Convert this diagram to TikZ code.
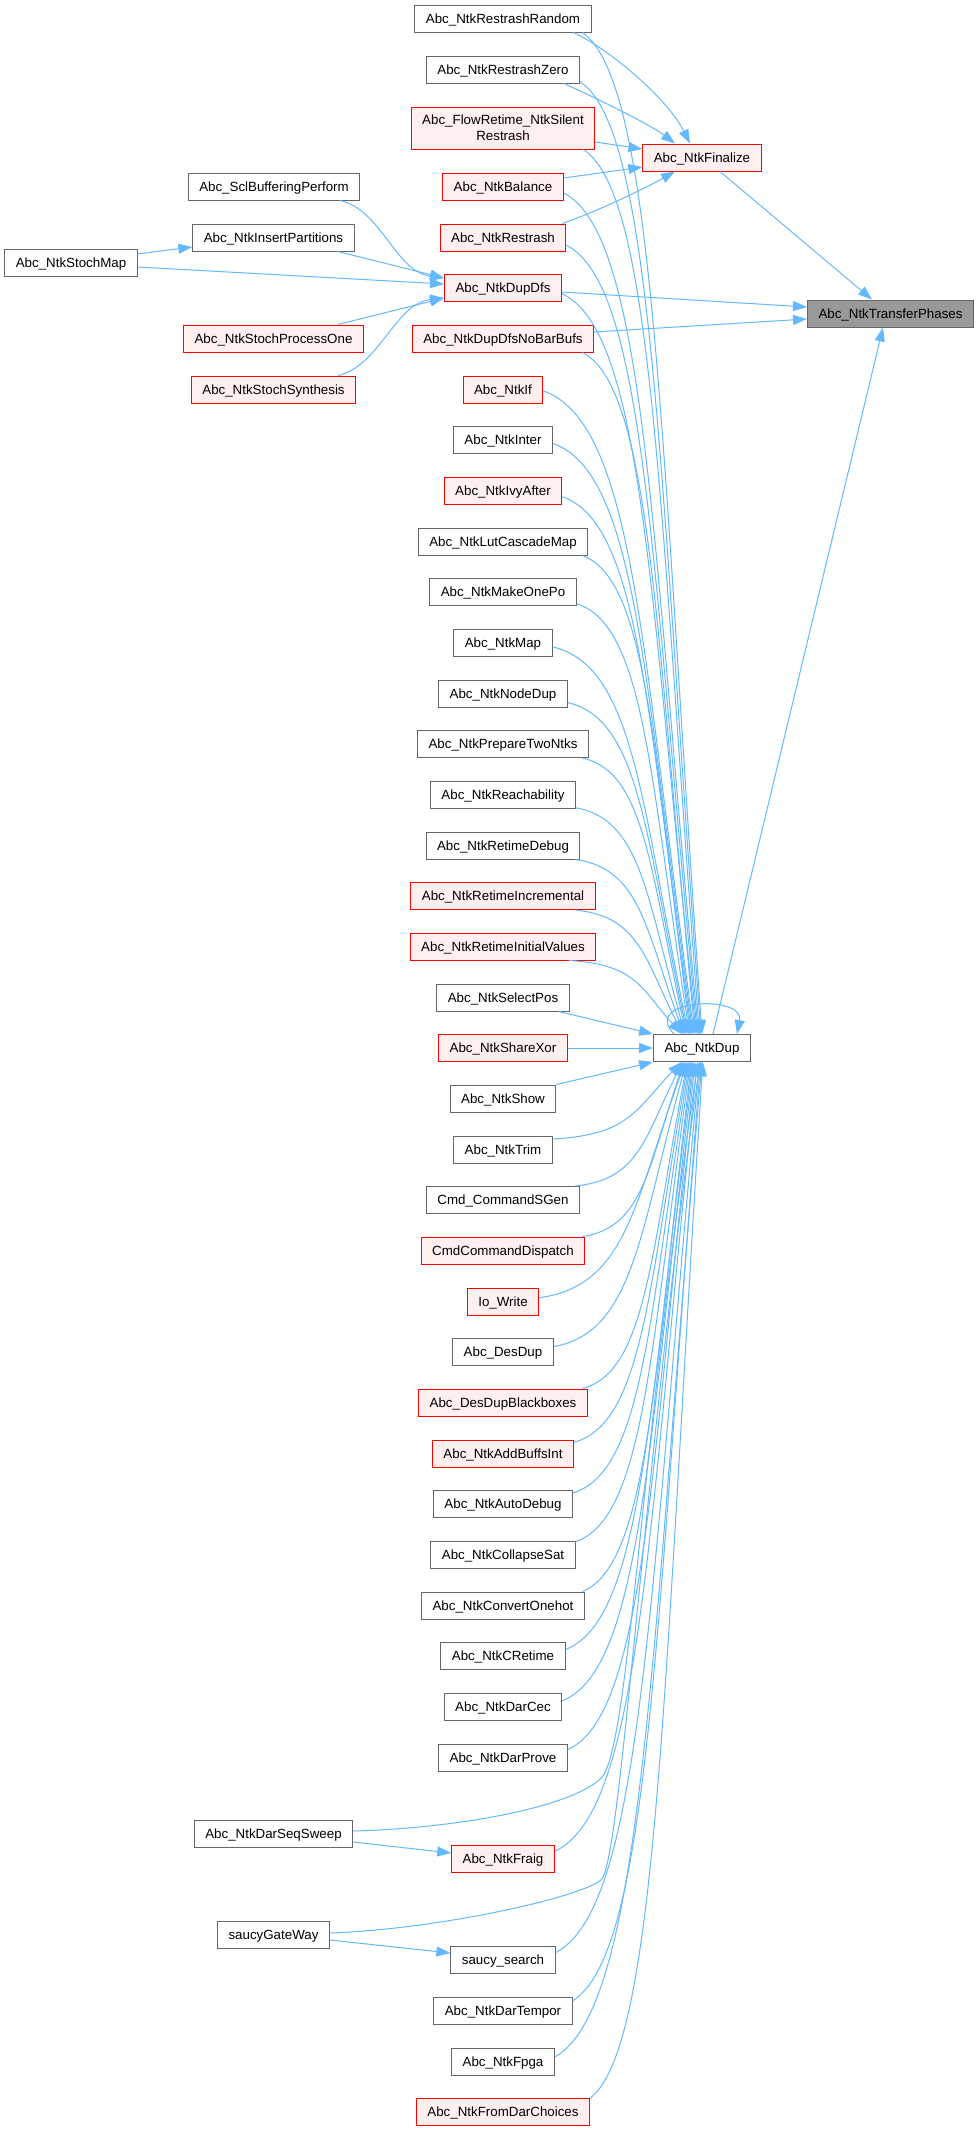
\documentclass[tikz,border=0pt]{standalone}
\usepackage{fontspec}
\setmainfont{Liberation Sans}
\usetikzlibrary{arrows.meta, calc}
\definecolor{edgeblue}{HTML}{63B8FF}
\definecolor{nodegray}{HTML}{666666}
\definecolor{rootgray}{HTML}{999999}
\definecolor{truncfill}{HTML}{FFF0F0}
\tikzset{
  fnbox/.style={draw=nodegray, fill=white, line width=0.75pt, font=\fontsize{10pt}{12pt}\selectfont,
    inner xsep=8.25pt, inner ysep=2pt, minimum height=20.25pt},
  fn/.style={fnbox, text height=9pt, text depth=2pt},
  fntrunc/.style={fn, draw=red, fill=truncfill},
  fnroot/.style={fn, fill=rootgray},
  call/.style={draw=edgeblue, line width=0.75pt, -{Triangle[length=10.5pt, width=7.5pt]}},
}

\begin{document}
\begin{tikzpicture}[x=0.75pt, y=-0.75pt]
    \useasboundingbox (0,0) rectangle (978,2131);

    % Callee and the two functions it is reached through
    \node[fnroot] (tp) at (890.5,313.5) {Abc\_NtkTransferPhases};
    \node[fntrunc] (fin) at (702,157.5) {Abc\_NtkFinalize};
    \node[fn] (dup) at (702,1048) {Abc\_NtkDup};

    % Callers, middle column
    \node[fn] (rrand) at (503,18.5) {Abc\_NtkRestrashRandom};
    \node[fn] (rzero) at (503,69.5) {Abc\_NtkRestrashZero};
    \node[fnbox, draw=red, fill=truncfill, align=center, minimum height=31.5pt] (flow) at (503,128) {Abc\_FlowRetime\_NtkSilent\\Restrash};
    \foreach \nm/\txt/\y/\sty in {
        bal/Abc\_NtkBalance/186.5/fntrunc, restr/Abc\_NtkRestrash/237.5/fntrunc,
        dfs/Abc\_NtkDupDfs/287.5/fntrunc, dfsnb/Abc\_NtkDupDfsNoBarBufs/338.5/fntrunc,
        ntkif/Abc\_NtkIf/389.5/fntrunc, inter/Abc\_NtkInter/440/fn,
        ivy/Abc\_NtkIvyAfter/490.5/fntrunc, lut/Abc\_NtkLutCascadeMap/541.5/fn,
        onepo/Abc\_NtkMakeOnePo/592/fn, map/Abc\_NtkMap/642.5/fn,
        nodedup/Abc\_NtkNodeDup/693.5/fn, prep/Abc\_NtkPrepareTwoNtks/744/fn,
        reach/Abc\_NtkReachability/795/fn, rdebug/Abc\_NtkRetimeDebug/845.5/fn,
        rinc/Abc\_NtkRetimeIncremental/896/fntrunc, rinit/Abc\_NtkRetimeInitialValues/946.5/fntrunc,
        selpos/Abc\_NtkSelectPos/997.5/fn, sxor/Abc\_NtkShareXor/1048/fntrunc,
        show/Abc\_NtkShow/1098.5/fn, trim/Abc\_NtkTrim/1149.5/fn,
        sgen/Cmd\_CommandSGen/1200/fn, dispatch/CmdCommandDispatch/1250.5/fntrunc,
        iowrite/Io\_Write/1301.5/fntrunc, desdup/Abc\_DesDup/1352/fn,
        desbb/Abc\_DesDupBlackboxes/1402.5/fntrunc, addbuf/Abc\_NtkAddBuffsInt/1453.5/fntrunc,
        autodbg/Abc\_NtkAutoDebug/1504/fn, colsat/Abc\_NtkCollapseSat/1554.5/fn,
        onehot/Abc\_NtkConvertOnehot/1605.5/fn, cret/Abc\_NtkCRetime/1656/fn,
        darcec/Abc\_NtkDarCec/1707/fn, darprove/Abc\_NtkDarProve/1757.5/fn,
        fraig/Abc\_NtkFraig/1858.5/fntrunc, ssearch/saucy\_search/1960/fn,
        dartempor/Abc\_NtkDarTempor/2010.5/fn, fpga/Abc\_NtkFpga/2061.5/fn,
        fromdar/Abc\_NtkFromDarChoices/2112/fntrunc}
        \node[\sty] (\nm) at (503,\y) {\txt};

    % Callers, left columns
    \node[fn] (scl) at (274,186.5) {Abc\_SclBufferingPerform};
    \node[fn] (inspart) at (273.5,237.5) {Abc\_NtkInsertPartitions};
    \node[fn] (stochmap) at (71,262.5) {Abc\_NtkStochMap};
    \node[fntrunc] (stochone) at (273.5,338.5) {Abc\_NtkStochProcessOne};
    \node[fntrunc] (stochsyn) at (273.5,389.5) {Abc\_NtkStochSynthesis};
    \node[fn] (seqsweep) at (273.5,1833.5) {Abc\_NtkDarSeqSweep};
    \node[fn] (gateway) at (273.5,1934.5) {saucyGateWay};

    % Into Abc_NtkTransferPhases
    \draw[call] ($(fin.south)+(18,0)$) -- ($(tp.north)+(-18.5,0)$);
    \draw[call] ($(dfs.east)+(0,4.5)$) -- ($(tp.west)+(0,-6.5)$);
    \draw[call] ($(dfsnb.east)+(0,-6.5)$) -- ($(tp.west)+(0,5.5)$);
    \draw[call] ($(dup.north)+(11,0)$) -- ($(tp.south)+(-7.5,0)$);

    % Into Abc_NtkFinalize
    \draw[call] ($(rrand.south east)+(-18,0)$) .. controls ($(rrand.south east)+(20,18)$) and ($(fin.north)+(-34,-44)$) .. ($(fin.north)+(-12,0)$);
    \draw[call] ($(rzero.south east)+(-16,0)$) .. controls ($(rzero.south east)+(21,17)$) and ($(fin.north)+(-52,-19)$) .. ($(fin.north)+(-27,0)$);
    \draw[call] ($(flow.east)+(0,14)$) -- ($(fin.west)+(0,-8.5)$);
    \draw[call] ($(bal.east)+(0,-8.5)$) -- ($(fin.west)+(0,9.5)$);
    \draw[call] ($(restr.north east)+(-4,0)$) .. controls ($(restr.north east)+(34,-13)$) and ($(fin.south)+(-52,14)$) .. ($(fin.south)+(-27,0)$);

    % Into Abc_NtkDupDfs
    \draw[call] ($(scl.south east)+(-20,0)$) .. controls ($(scl.south east)+(22,10)$) and ($(dfs.west)+(-49,-16)$) .. ($(dfs.west)+(0,-9.5)$);
    \draw[call] ($(inspart.south east)+(-17,0)$) -- ($(dfs.west)+(0,-9.5)$);
    \draw[call] ($(stochmap.east)+(0,4.5)$) -- ($(dfs.west)+(0,-3.5)$);
    \draw[call] ($(stochmap.east)+(0,-8.5)$) -- ($(inspart.west)+(0,9.5)$);
    \draw[call] ($(stochone.north east)+(-26,0)$) -- ($(dfs.west)+(0,10.5)$);
    \draw[call] ($(stochsyn.north east)+(-18,0)$) .. controls ($(stochsyn.north east)+(24,-10)$) and ($(dfs.west)+(-49,16)$) .. ($(dfs.west)+(0,10.5)$);

    % Fraig and saucy_search
    \draw[call] ($(seqsweep.east)+(0,8.5)$) -- ($(fraig.west)+(0,-5.5)$);
    \draw[call] ($(gateway.east)+(0,5.5)$) -- ($(ssearch.west)+(0,-7)$);

    % Into Abc_NtkDup from above
    \foreach \nm/\a in {rrand/-10, rzero/-9, flow/-15, bal/-6, restr/-7, dfs/-6, dfsnb/-10,
        ntkif/-2, inter/-4, ivy/-6, lut/-10, onepo/-9, map/-5, nodedup/-8, prep/-10,
        reach/-10, rdebug/-11, rinc/-11, rinit/-12}
        \draw[call] let \p1=(\nm.\a), \p3=(dup.north),
            \p2=({\x3+min(1.5,-16.5+0.022*abs(\y3-\y1))},\y3) in
            (\p1) .. controls ({\x1+0.6*(\x2-\x1)},{\y1+0.05*(\y2-\y1)})
                and ({\x2-0.35*(\x2-\x1)},{\y2-0.6*(\y2-\y1)}) .. (\p2);

    % Into Abc_NtkDup from below
    \foreach \nm/\a in {trim/12, sgen/11, dispatch/10, iowrite/6, desdup/6, desbb/10,
        addbuf/9, autodbg/9, colsat/10, onehot/10, cret/6, darcec/6, darprove/7,
        fraig/8, ssearch/8, dartempor/8, fpga/5, fromdar/9}
        \draw[call] let \p1=(\nm.\a), \p3=(dup.south),
            \p2=({\x3+min(1.5,-16.5+0.022*abs(\y3-\y1))},\y3) in
            (\p1) .. controls ({\x1+0.6*(\x2-\x1)},{\y1+0.05*(\y2-\y1)})
                and ({\x2-0.35*(\x2-\x1)},{\y2-0.6*(\y2-\y1)}) .. (\p2);

    % Beside Abc_NtkDup
    \draw[call] ($(selpos.south east)+(-11,0)$) -- (dup.north west);
    \draw[call] (sxor) -- (dup);
    \draw[call] (show.north east) -- (dup.south west);
    \draw[call] ($(seqsweep.east)+(0,-2.5)$) .. controls ($(seqsweep.east)+(110,-5.5)$) and ($(seqsweep.east)+(220,-27.5)$) .. ($(seqsweep.east)+(248,-55.5)$)
        .. controls ($(seqsweep.east)+(276,-83.5)$) and ($(dup.south)+(-62,389)$) .. ($(dup.south)+(-4,0)$);
    \draw[call] ($(gateway.east)+(0,-1.5)$) .. controls ($(gateway.east)+(111,-5.5)$) and ($(gateway.east)+(251,-37.5)$) .. ($(gateway.east)+(271,-54.5)$)
        .. controls ($(gateway.east)+(291,-71.5)$) and ($(dup.south)+(-60,419)$) .. ($(dup.south)+(-2,0)$);

    % Recursive call
    \draw[call] ($(dup.north)+(-28,0)$) .. controls ($(dup.north)+(-62,-35)$) and ($(dup.north)+(43,-40)$) .. ($(dup.north)+(35,0)$);
\end{tikzpicture}
\end{document}
